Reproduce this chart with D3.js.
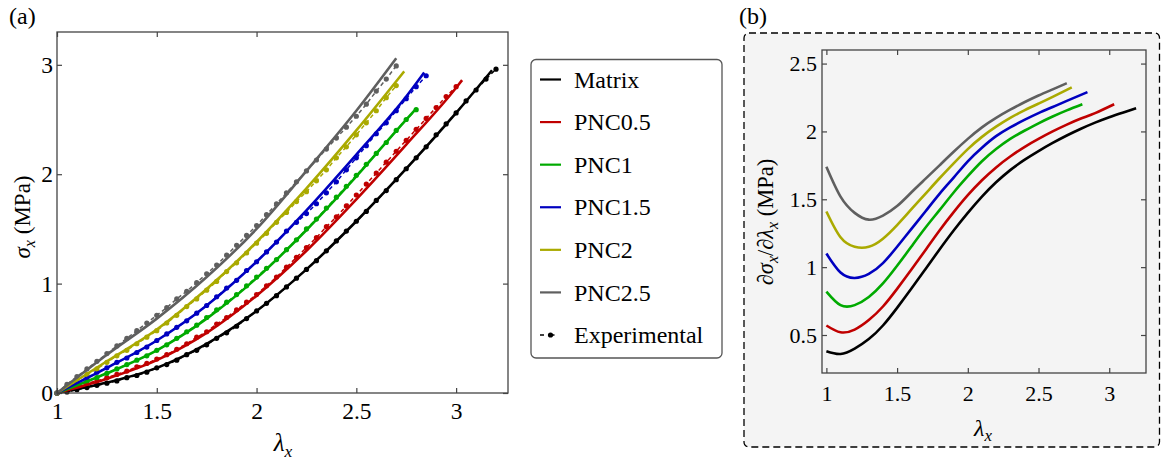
<!DOCTYPE html>
<html>
<head>
<meta charset="utf-8">
<script src="https://cdn.jsdelivr.net/npm/d3@7"></script>
<style>
body { margin: 0; background: #fff; }
</style>
</head>
<body>
<svg id="fig" width="1161" height="462" font-family="Liberation Serif, DejaVu Serif, serif"></svg>
<script>
//Stress-stretch fits (a) and tangent stiffness (b)
var seriesNames = ["Matrix", "PNC0.5", "PNC1", "PNC1.5", "PNC2", "PNC2.5"];
var seriesColors = ["#000000", "#c00000", "#00aa00", "#0000c0", "#aaaa00", "#5f5f5f"];

var xTicksA = [1, 1.5, 2, 2.5, 3];
var yTicksA = [0, 1, 2, 3];
var xTicksB = [1, 1.5, 2, 2.5, 3];
var yTicksB = [0.5, 1, 1.5, 2, 2.5];

// model fits, [lambda, sigma (MPa)]
var fitMatrix = [[1, 0], [1.25, 0.095], [1.5, 0.23], [1.75, 0.45], [2, 0.75], [2.25, 1.13], [2.5, 1.57], [2.75, 2.05], [3, 2.56], [3.18, 2.95]];
var fitPNC05 = [[1, 0], [1.25, 0.13], [1.5, 0.30], [1.75, 0.55], [2, 0.89], [2.25, 1.30], [2.5, 1.77], [2.75, 2.27], [3, 2.79], [3.03, 2.86]];
var fitPNC1 = [[1, 0], [1.25, 0.18], [1.5, 0.39], [1.75, 0.68], [2, 1.05], [2.25, 1.49], [2.5, 1.98], [2.75, 2.50], [2.80, 2.60]];
var fitPNC15 = [[1, 0], [1.25, 0.23], [1.5, 0.48], [1.75, 0.80], [2, 1.20], [2.25, 1.67], [2.5, 2.18], [2.75, 2.71], [2.84, 2.93]];
var fitPNC2 = [[1, 0], [1.25, 0.29], [1.5, 0.58], [1.75, 0.95], [2, 1.38], [2.25, 1.87], [2.5, 2.40], [2.74, 2.94]];
var fitPNC25 = [[1, 0], [1.25, 0.35], [1.5, 0.68], [1.75, 1.06], [2, 1.50], [2.25, 2.03], [2.5, 2.58], [2.70, 3.06]];

// experimental stretch grid and measured stress
var expLambda = [1.00, 1.05, 1.10, 1.15, 1.20, 1.25, 1.30, 1.35, 1.40, 1.45, 1.50, 1.55, 1.60, 1.65, 1.70,
	1.75, 1.80, 1.85, 1.90, 1.95, 2.00, 2.05, 2.10, 2.15, 2.20, 2.25, 2.30, 2.35, 2.40, 2.45,
	2.50, 2.55, 2.60, 2.65, 2.70, 2.75, 2.80, 2.85, 2.90, 2.95, 3.00, 3.05, 3.10, 3.15, 3.20];
var expMatrix = [0, 0.01, 0.03, 0.05, 0.07, 0.09, 0.11, 0.14, 0.16, 0.19, 0.23, 0.26, 0.30, 0.35, 0.39,
	0.44, 0.50, 0.55, 0.61, 0.68, 0.75, 0.82, 0.89, 0.97, 1.05, 1.13, 1.21, 1.30, 1.39, 1.48,
	1.57, 1.66, 1.76, 1.85, 1.95, 2.05, 2.15, 2.25, 2.36, 2.46, 2.56, 2.67, 2.77, 2.87, 2.96];
var expPNC05 = [0, 0.03, 0.06, 0.09, 0.11, 0.14, 0.17, 0.20, 0.24, 0.27, 0.31, 0.35, 0.40, 0.45, 0.51,
	0.56, 0.63, 0.69, 0.76, 0.83, 0.90, 0.98, 1.06, 1.15, 1.24, 1.33, 1.42, 1.52, 1.61, 1.71,
	1.81, 1.91, 2.01, 2.11, 2.21, 2.31, 2.41, 2.51, 2.61, 2.71, 2.80];
var expPNC1 = [0, 0.04, 0.07, 0.11, 0.14, 0.18, 0.22, 0.26, 0.30, 0.34, 0.39, 0.44, 0.50, 0.56, 0.62,
	0.69, 0.76, 0.83, 0.90, 0.98, 1.06, 1.14, 1.22, 1.31, 1.40, 1.50, 1.59, 1.69, 1.79, 1.89,
	1.99, 2.09, 2.19, 2.29, 2.40, 2.50, 2.59];
var expPNC15 = [0, 0.05, 0.10, 0.14, 0.19, 0.23, 0.28, 0.32, 0.37, 0.42, 0.48, 0.54, 0.60, 0.66, 0.73,
	0.80, 0.88, 0.96, 1.03, 1.12, 1.20, 1.29, 1.38, 1.48, 1.56, 1.64, 1.73, 1.83, 1.93, 2.04,
	2.15, 2.26, 2.37, 2.47, 2.58, 2.69, 2.80, 2.90];
var expPNC2 = [0, 0.06, 0.12, 0.17, 0.22, 0.28, 0.34, 0.39, 0.45, 0.51, 0.57, 0.64, 0.71, 0.79, 0.86,
	0.94, 1.02, 1.11, 1.19, 1.28, 1.37, 1.46, 1.56, 1.65, 1.75, 1.84, 1.94, 2.04, 2.15, 2.25,
	2.36, 2.47, 2.58, 2.70, 2.81];
var expPNC25 = [0, 0.08, 0.15, 0.22, 0.29, 0.36, 0.43, 0.50, 0.57, 0.64, 0.71, 0.78, 0.86, 0.93, 1.01,
	1.09, 1.17, 1.26, 1.35, 1.44, 1.53, 1.63, 1.73, 1.83, 1.93, 2.03, 2.13, 2.23, 2.33, 2.43,
	2.53, 2.64, 2.76, 2.87, 2.99];

// tangent stiffness d(sigma)/d(lambda), [lambda, MPa]
var slopeMatrix = [[1, 0.38], [1.1, 0.36], [1.2, 0.40], [1.3, 0.47], [1.4, 0.57], [1.5, 0.70], [1.6, 0.84], [1.7, 0.985], [1.8, 1.13], [1.9, 1.27],
	[2, 1.40], [2.1, 1.52], [2.2, 1.625], [2.3, 1.715], [2.4, 1.79], [2.5, 1.855], [2.6, 1.915], [2.7, 1.97], [2.8, 2.02], [2.9, 2.065], [3, 2.105], [3.1, 2.14], [3.19, 2.17]];
var slopePNC05 = [[1, 0.57], [1.1, 0.52], [1.2, 0.54], [1.3, 0.61], [1.4, 0.71], [1.5, 0.84], [1.6, 0.98], [1.7, 1.125], [1.8, 1.27], [1.9, 1.405],
	[2, 1.53], [2.1, 1.64], [2.2, 1.735], [2.3, 1.815], [2.4, 1.885], [2.5, 1.945], [2.6, 2.0], [2.7, 2.05], [2.8, 2.095], [2.9, 2.135], [3.035, 2.20]];
var slopePNC1 = [[1, 0.82], [1.1, 0.72], [1.2, 0.72], [1.3, 0.78], [1.4, 0.88], [1.5, 1.01], [1.6, 1.15], [1.7, 1.29], [1.8, 1.42], [1.9, 1.55],
	[2, 1.67], [2.1, 1.78], [2.2, 1.87], [2.3, 1.945], [2.4, 2.005], [2.5, 2.06], [2.6, 2.11], [2.7, 2.155], [2.81, 2.20]];
var slopePNC15 = [[1, 1.10], [1.1, 0.96], [1.2, 0.92], [1.3, 0.95], [1.4, 1.03], [1.5, 1.15], [1.6, 1.28], [1.7, 1.41], [1.8, 1.54], [1.9, 1.66],
	[2, 1.78], [2.1, 1.88], [2.2, 1.965], [2.3, 2.03], [2.4, 2.085], [2.5, 2.135], [2.6, 2.18], [2.7, 2.225], [2.846, 2.29]];
var slopePNC2 = [[1, 1.41], [1.1, 1.22], [1.2, 1.15], [1.3, 1.15], [1.4, 1.21], [1.5, 1.31], [1.6, 1.425], [1.7, 1.54], [1.8, 1.655], [1.9, 1.765],
	[2, 1.87], [2.1, 1.96], [2.2, 2.035], [2.3, 2.10], [2.4, 2.155], [2.5, 2.205], [2.6, 2.255], [2.735, 2.325]];
var slopePNC25 = [[1, 1.74], [1.1, 1.52], [1.2, 1.40], [1.3, 1.35], [1.4, 1.38], [1.5, 1.45], [1.6, 1.55], [1.7, 1.65], [1.8, 1.75], [1.9, 1.85],
	[2, 1.945], [2.1, 2.03], [2.2, 2.10], [2.3, 2.16], [2.4, 2.215], [2.5, 2.265], [2.6, 2.31], [2.70, 2.355]];

(function() {
	"use strict";
	var fits = [fitMatrix, fitPNC05, fitPNC1, fitPNC15, fitPNC2, fitPNC25];
	var exps = [expMatrix, expPNC05, expPNC1, expPNC15, expPNC2, expPNC25];
	var slopes = [slopeMatrix, slopePNC05, slopePNC1, slopePNC15, slopePNC2, slopePNC25];
	var frameCol = "#444";
	var svg = d3.select("#fig");
	svg.append("rect").attr("width", 1161).attr("height", 462).attr("fill", "#fff");

	function drawFrame(g, x, y, xt, yt, padX, padY, fs) {
		var fmt = d3.format("");
		var x0 = x.range()[0], x1 = x.range()[1], y0 = y.range()[0], y1 = y.range()[1];
		var axes = [
			g.append("g").attr("transform", "translate(0," + y0 + ")")
				.call(d3.axisBottom(x).tickValues(xt).tickSize(-5).tickPadding(padX).tickFormat(fmt)),
			g.append("g").attr("transform", "translate(0," + y1 + ")")
				.call(d3.axisTop(x).tickValues(xt).tickSize(-5).tickFormat("")),
			g.append("g").attr("transform", "translate(" + x0 + ",0)")
				.call(d3.axisLeft(y).tickValues(yt).tickSize(-5).tickPadding(padY).tickFormat(fmt)),
			g.append("g").attr("transform", "translate(" + x1 + ",0)")
				.call(d3.axisRight(y).tickValues(yt).tickSize(-5).tickFormat(""))
		];
		axes.forEach(function(a) {
			a.attr("font-family", null).attr("font-size", null);
			a.select(".domain").remove();
			a.selectAll(".tick line").attr("stroke", frameCol).attr("stroke-width", 1.2);
			a.selectAll("text").attr("font-size", fs).attr("fill", "#000");
		});
		g.append("rect")
			.attr("x", x0).attr("y", y1)
			.attr("width", x1 - x0).attr("height", y0 - y1)
			.attr("fill", "none").attr("stroke", frameCol).attr("stroke-width", 1.3);
	}

	// subscripted math label, e.g. lambda_x
	function mathLabel(t, base, sub, rest, fs) {
		t.append("tspan").attr("font-style", "italic").text(base);
		t.append("tspan").attr("font-style", "italic").attr("font-size", fs * 0.7).attr("dy", fs * 0.22).text(sub);
		if(rest) {
			t.append("tspan").attr("dy", -fs * 0.22).text(rest);
		}
	}

	/* ---------- panel (a) ---------- */
	var xA = d3.scaleLinear().domain([1, 3.26]).range([57, 508]);
	var yA = d3.scaleLinear().domain([0, 3.3]).range([393, 32]);
	var gA = svg.append("g");
	var lineA = d3.line()
		.x(function(d) { return xA(d[0]); })
		.y(function(d) { return yA(d[1]); })
		.curve(d3.curveMonotoneX);
	var lineExp = d3.line()
		.x(function(d) { return xA(d[0]); })
		.y(function(d) { return yA(d[1]); });

	exps.forEach(function(vals, i) {
		var pts = vals.map(function(v, k) { return [expLambda[k], v]; });
		gA.append("path")
			.attr("d", lineExp(pts))
			.attr("fill", "none")
			.attr("stroke", seriesColors[i])
			.attr("stroke-width", 1.5)
			.attr("stroke-dasharray", "4,3");
		gA.append("g").selectAll("circle").data(pts).enter().append("circle")
			.attr("cx", function(d) { return xA(d[0]); })
			.attr("cy", function(d) { return yA(d[1]); })
			.attr("r", 2.6)
			.attr("fill", seriesColors[i]);
	});
	fits.forEach(function(pts, i) {
		gA.append("path")
			.attr("d", lineA(pts))
			.attr("fill", "none")
			.attr("stroke", seriesColors[i])
			.attr("stroke-width", 2.6);
	});
	drawFrame(gA, xA, yA, xTicksA, yTicksA, 9, 4, 23.5);

	svg.append("text").attr("x", 9).attr("y", 24).attr("font-size", 24).text("(a)");
	mathLabel(svg.append("text").attr("x", 283).attr("y", 451).attr("text-anchor", "middle").attr("font-size", 25),
		"\u03bb", "x", null, 25);
	mathLabel(svg.append("text").attr("transform", "translate(30,217) rotate(-90)").attr("text-anchor", "middle").attr("font-size", 23),
		"\u03c3", "x", " (MPa)", 23);

	/* ---------- legend ---------- */
	var leg = svg.append("g");
	leg.append("rect")
		.attr("x", 531).attr("y", 59.5).attr("width", 191).attr("height", 298.5)
		.attr("rx", 5).attr("fill", "#fff")
		.attr("stroke", "#555").attr("stroke-width", 1.3);
	var rowY = d3.scaleLinear().domain([0, 6]).range([79.5, 335]);
	seriesNames.forEach(function(name, i) {
		leg.append("line")
			.attr("x1", 540).attr("x2", 561)
			.attr("y1", rowY(i)).attr("y2", rowY(i))
			.attr("stroke", seriesColors[i]).attr("stroke-width", 2.2);
		leg.append("text").attr("x", 574).attr("y", rowY(i)).attr("dy", "0.34em")
			.attr("font-size", 24).text(name);
	});
	leg.append("line")
		.attr("x1", 540).attr("x2", 561)
		.attr("y1", rowY(6)).attr("y2", rowY(6))
		.attr("stroke", "#000").attr("stroke-width", 1.4)
		.attr("stroke-dasharray", "4,6.5");
	leg.append("circle").attr("cx", 550.5).attr("cy", rowY(6)).attr("r", 2.6).attr("fill", "#000");
	leg.append("text").attr("x", 574).attr("y", rowY(6)).attr("dy", "0.34em")
		.attr("font-size", 24).text("Experimental");

	/* ---------- panel (b) ---------- */
	svg.append("rect")
		.attr("x", 744).attr("y", 33).attr("width", 415.5).attr("height", 414)
		.attr("rx", 5).attr("fill", "#f4f4f4")
		.attr("stroke", "#000").attr("stroke-width", 1.3)
		.attr("stroke-dasharray", "7,4");
	svg.append("text").attr("x", 739).attr("y", 24).attr("font-size", 24).text("(b)");

	var xB = d3.scaleLinear().domain([0.969, 3.26]).range([822, 1146]);
	var yB = d3.scaleLinear().domain([0.22, 2.6]).range([373, 50]);
	var gB = svg.append("g");
	var lineB = d3.line()
		.x(function(d) { return xB(d[0]); })
		.y(function(d) { return yB(d[1]); })
		.curve(d3.curveNatural);
	slopes.forEach(function(pts, i) {
		gB.append("path")
			.attr("d", lineB(pts))
			.attr("fill", "none")
			.attr("stroke", seriesColors[i])
			.attr("stroke-width", 2.6);
	});
	drawFrame(gB, xB, yB, xTicksB, yTicksB, 12, 5, 22);

	mathLabel(svg.append("text").attr("x", 983).attr("y", 436).attr("text-anchor", "middle").attr("font-size", 24),
		"\u03bb", "x", null, 24);
	var tb = svg.append("text").attr("transform", "translate(773,222) rotate(-90)")
		.attr("text-anchor", "middle").attr("font-size", 22.5);
	tb.append("tspan").text("\u2202");
	tb.append("tspan").attr("font-style", "italic").text("\u03c3");
	tb.append("tspan").attr("font-style", "italic").attr("font-size", 16).attr("dy", 5).text("x");
	tb.append("tspan").attr("dy", -5).text("/\u2202");
	tb.append("tspan").attr("font-style", "italic").text("\u03bb");
	tb.append("tspan").attr("font-style", "italic").attr("font-size", 16).attr("dy", 5).text("x");
	tb.append("tspan").attr("dy", -5).text(" (MPa)");
}());
</script>
</body>
</html>
